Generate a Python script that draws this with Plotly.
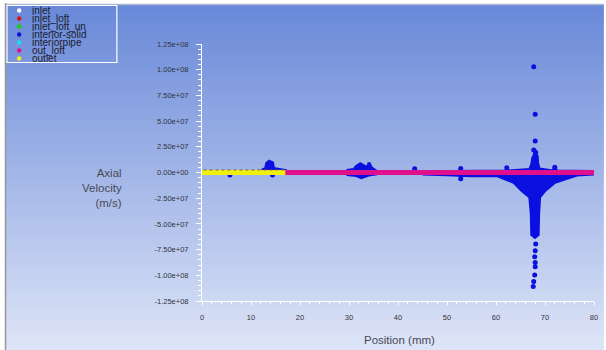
import plotly.graph_objects as go

# ---------------- data ----------------
series_names = ["inlet", "inlet_loft", "inlet_loft_un", "interior-solid",
                "interiorpipe", "out_loft", "outlet"]
series_colors = ["#ffffff", "#e01010", "#10d010", "#0a10e0",
                 "#10e0f0", "#e0108c", "#f0f010"]

# outlet (yellow) and out_loft (magenta) lie along zero
outlet_x = [0.0, 17.0]
outlet_y = [0.0, 0.0]
out_loft_x = [16.8, 80.0]
out_loft_y = [0.0, 0.0]
inlet_loft_x = [0.3, 16.8]
inlet_loft_y = [2.5e6, 2.5e6]

# interior-solid: dense regions (outlines)
solid_mass_x = [
    12.2, 13.0, 13.2, 13.7, 14.4, 14.6, 17.0, 17.0, 12.2, None,
    29.5, 31.0, 31.5, 32.3, 33.2, 33.8, 34.1, 34.5, 35.5, 35.5, 34.0, 32.5, 31.5, 29.5, None,
    45.0, 55.0, 62.0, 62.2, 62.5, 66.9, 67.3, 67.5, 67.9, 68.4, 68.5, 68.8,
    71.6, 72.0, 72.4, 80.0, 80.0, 76.5, 72.0, 70.0, 68.9, 68.7, 68.6, 67.95,
    67.3, 67.2, 66.9, 65.3, 63.6, 60.2, 55.0, 50.0, 45.0,
]
solid_mass_y = [
    2.0e6, 4.0e6, 9.0e6, 1.1e7, 9.5e6, 4.0e6, 2.0e6, -1.0e6, -1.0e6, None,
    2.0e6, 3.0e6, 6.0e6, 8.5e6, 6.0e6, 5.0e6, 9.5e6, 5.0e6, 1.5e6, -1.5e6, -2.5e6, -5.0e6, -3.0e6, -2.0e6, None,
    0.8e6, 1.0e6, 1.5e6, 4.5e6, 1.5e6, 3.0e6, 8.0e6, 1.4e7, 1.8e7, 1.6e7, 9.0e6, 3.5e6,
    1.5e6, 5.0e6, 1.5e6, 1.0e6, -1.5e6, -2.5e6, -9.5e6, -1.76e7, -2.4e7, -4.0e7, -6.05e7, -6.3e7,
    -6.05e7, -4.0e7, -2.4e7, -1.76e7, -9.5e6, -3.0e6, -3.2e6, -2.2e6, -1.5e6,
]
# interior-solid: scattered points
solid_pts_x = [67.7, 68.0, 68.0, 67.7, 68.1,
               68.1, 68.0, 67.9, 68.0, 68.0, 67.9, 67.7, 67.6,
               62.2, 72.0, 43.4, 52.8, 52.8, 52.9, 5.7, 14.4]
solid_pts_y = [1.028e8, 5.66e7, 3.06e7, 2.2e7, 1.98e7,
               -6.96e7, -7.6e7, -8.2e7, -8.76e7, -9.18e7, -9.96e7, -1.06e8, -1.11e8,
               4.6e6, 5.0e6, 3.6e6, 4.0e6, -6.0e6, -3.0e6, -2.5e6, -2.5e6]

y_tick_vals = [1.25e8, 1.0e8, 7.5e7, 5.0e7, 2.5e7, 0.0,
               -2.5e7, -5.0e7, -7.5e7, -1.0e8, -1.25e8]
y_tick_text = ["1.25e+08", "1.00e+08", "7.50e+07", "5.00e+07", "2.50e+07", "0.00e+00",
               "-2.50e+07", "-5.00e+07", "-7.50e+07", "-1.00e+08", "-1.25e+08"]
x_tick_vals = [0, 10, 20, 30, 40, 50, 60, 70, 80]
x_tick_text = ["0", "10", "20", "30", "40", "50", "60", "70", "80"]

# ---------------- layout geometry ----------------
W, H = 606, 350
L, R, T, B = 202, 8, 44, 49
PW, PH = W - L - R, H - T - B


def px(x):
    return (x - L) / PW


def py(y):
    return (H - B - y) / PH


FONT = "Liberation Sans, Arial, sans-serif"
blue = series_colors[3]

fig = go.Figure()
fig.add_trace(go.Scatter(x=solid_mass_x, y=solid_mass_y, mode="lines", fill="toself",
                         fillcolor=blue, line=dict(color=blue, width=3),
                         name=series_names[3], showlegend=False, hoverinfo="skip"))
fig.add_trace(go.Scatter(x=solid_pts_x, y=solid_pts_y, mode="markers",
                         marker=dict(color=blue, size=5), cliponaxis=False,
                         name=series_names[3], showlegend=False))
fig.add_trace(go.Scatter(x=out_loft_x, y=out_loft_y, mode="lines",
                         line=dict(color=series_colors[5], width=5),
                         name=series_names[5], showlegend=False))
fig.add_trace(go.Scatter(x=outlet_x, y=outlet_y, mode="lines",
                         line=dict(color=series_colors[6], width=5),
                         name=series_names[6], showlegend=False))
fig.add_trace(go.Scatter(x=inlet_loft_x, y=inlet_loft_y, mode="lines",
                         line=dict(color="#8a5a3a", width=1, dash="dot"),
                         name=series_names[1], showlegend=False))

shapes = []
# background gradient
top_c = (104, 136, 216)
bot_c = (222, 229, 247)
y_start, y_end = 5, 350
n = 69
step = (y_end - y_start) / n
for i in range(n):
    t = (i + 0.5) / n
    c = tuple(int(round(top_c[k] + (bot_c[k] - top_c[k]) * t)) for k in range(3))
    y0 = y_start + i * step
    y1 = y0 + step + 0.6
    shapes.append(dict(type="rect", xref="paper", yref="paper", layer="below",
                       x0=px(4), x1=px(W + 2), y0=py(y1), y1=py(y0),
                       fillcolor="rgb(%d,%d,%d)" % c, line=dict(width=0)))
# frame lines
shapes.append(dict(type="line", xref="paper", yref="paper", layer="below",
                   x0=px(4), x1=px(W + 2), y0=py(4.5), y1=py(4.5),
                   line=dict(color="rgb(170,185,210)", width=1.5)))
shapes.append(dict(type="line", xref="paper", yref="paper", layer="below",
                   x0=px(3.5), x1=px(3.5), y0=py(3), y1=py(H + 2),
                   line=dict(color="rgb(150,150,155)", width=1.5)))
# legend box
shapes.append(dict(type="rect", xref="paper", yref="paper", layer="above",
                   x0=px(5), x1=px(116), y0=py(62.5), y1=py(5.5),
                   fillcolor="rgba(0,0,0,0)", line=dict(color="white", width=1.2)))

annotations = []
for i, (nm, col) in enumerate(zip(series_names, series_colors)):
    yc = 10.5 + 8 * i
    shapes.append(dict(type="circle", xref="paper", yref="paper", layer="above",
                       xsizemode="pixel", ysizemode="pixel",
                       xanchor=px(17.3), yanchor=py(yc),
                       x0=-2.2, x1=2.2, y0=-2.2, y1=2.2,
                       fillcolor=col, line=dict(width=0)))
    annotations.append(dict(xref="paper", yref="paper", x=px(29), y=py(yc),
                            xanchor="left", yanchor="middle", showarrow=False,
                            text=nm, borderpad=0,
                            font=dict(family=FONT, size=10, color="#1c1c30")))

annotations.append(dict(xref="paper", yref="paper", x=px(123), y=py(188),
                        xanchor="right", yanchor="middle", showarrow=False,
                        align="right", text="Axial<br>Velocity<br>(m/s)",
                        font=dict(family=FONT, size=11.5, color="#4a4a55")))
annotations.append(dict(xref="paper", yref="paper", x=px(401.5), y=py(340),
                        xanchor="center", yanchor="middle", showarrow=False,
                        text="Position (mm)",
                        font=dict(family=FONT, size=11.5, color="#4a4a55")))

fig.update_layout(
    width=W, height=H,
    margin=dict(l=L, r=R, t=T, b=B, pad=0),
    paper_bgcolor="white",
    plot_bgcolor="rgba(0,0,0,0)",
    showlegend=False,
    shapes=shapes,
    annotations=annotations,
    xaxis=dict(range=[0, 80], tickvals=x_tick_vals, ticktext=x_tick_text,
               showgrid=False, zeroline=False, showline=True, linecolor="white",
               linewidth=1, ticks="outside", ticklen=3, tickcolor="white",
               ticklabelstandoff=6,
               minor=dict(ticks="outside", ticklen=2, dtick=2, tickcolor="white"),
               tickfont=dict(family=FONT, size=7.5, color="#333340")),
    yaxis=dict(range=[-1.25e8, 1.25e8], tickvals=y_tick_vals, ticktext=y_tick_text,
               showgrid=False, zeroline=False, showline=True, linecolor="white",
               linewidth=1, ticks="outside", ticklen=5, tickcolor="white",
               ticklabelstandoff=6,
               minor=dict(ticks="outside", ticklen=3, dtick=5e6, tickcolor="white"),
               tickfont=dict(family=FONT, size=7.5, color="#333340")),
)

fig.write_html("out.html", config={"displayModeBar": False},
               post_script="document.body.style.margin='0';document.body.style.overflow='hidden';")
